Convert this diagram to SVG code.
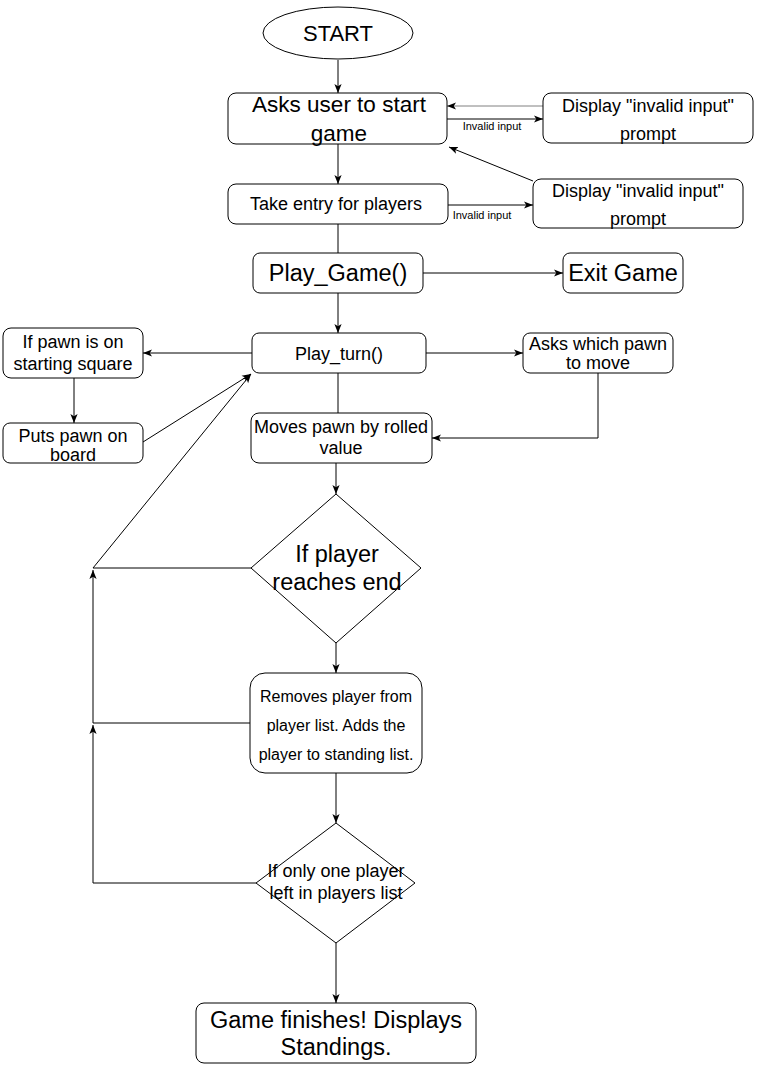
<svg xmlns="http://www.w3.org/2000/svg" width="757" height="1067" viewBox="0 0 757 1067">
<defs>
<style>
.n{fill:#fff;stroke:#000;stroke-width:1}
.t{font-family:"Liberation Sans",Arial,sans-serif;fill:#000;text-anchor:middle}
.c{fill:none;stroke:#000;stroke-width:1}
.a{marker-end:url(#arr)}
.lbl{font-family:"Liberation Sans",Arial,sans-serif;font-size:11px;fill:#000;text-anchor:middle}
</style>
<marker id="arr" viewBox="0 0 10 10" refX="10" refY="5" markerWidth="9" markerHeight="9" markerUnits="userSpaceOnUse" orient="auto">
<path d="M0,1 L10,5 L0,9 L2.5,5 z" fill="#000"/>
</marker>
</defs>
<rect width="757" height="1067" fill="#fff"/>
<g id="connectors">
<path class="c a" d="M338,60 V93"/>
<path class="c a" d="M543,106 H447" style="stroke:#808080"/>
<path class="c a" d="M447,119 H543"/>
<text class="lbl" x="492" y="130">Invalid input</text>
<path class="c a" d="M338,144 V184"/>
<path class="c a" d="M448,205 H533"/>
<text class="lbl" x="482" y="219">Invalid input</text>
<path class="c a" d="M533,181 L449,147"/>
<path class="c" d="M338,224 V253"/>
<path class="c a" d="M423,273 H563"/>
<path class="c a" d="M338,293 V333"/>
<path class="c a" d="M252,353 H143"/>
<path class="c a" d="M426,353 H523"/>
<path class="c a" d="M74,378 V423"/>
<path class="c a" d="M143,442 L251,374"/>
<path class="c a" d="M598,373 V438 H432"/>
<path class="c" d="M338,373 V413"/>
<path class="c a" d="M336,463 V494"/>
<path class="c a" d="M251,568 H93 L251,374"/>
<path class="c a" d="M336,643 V673"/>
<path class="c a" d="M250,723 H93 V570"/>
<path class="c a" d="M336,773 V823"/>
<path class="c a" d="M256,883 H93 V725"/>
<path class="c a" d="M336,943 V1003"/>
</g>
<g id="start">
<ellipse class="n" cx="338" cy="33" rx="75" ry="26"/>
<text class="t" x="338" y="41" font-size="22">START</text>
</g>
<g id="asks-start">
<rect class="n" x="228" y="93" width="219" height="51" rx="8"/>
<text class="t" x="339" y="112" font-size="22.5">Asks user to start</text>
<text class="t" x="339" y="141" font-size="22.5">game</text>
</g>
<g id="invalid1">
<rect class="n" x="543" y="93" width="210" height="50" rx="8"/>
<text class="t" x="648" y="112" font-size="18">Display "invalid input"</text>
<text class="t" x="648" y="140" font-size="18">prompt</text>
</g>
<g id="take-entry">
<rect class="n" x="228" y="184" width="220" height="40" rx="8"/>
<text class="t" x="336" y="210" font-size="18">Take entry for players</text>
</g>
<g id="invalid2">
<rect class="n" x="533" y="179" width="210" height="49" rx="8"/>
<text class="t" x="638" y="197" font-size="18">Display "invalid input"</text>
<text class="t" x="638" y="225" font-size="18">prompt</text>
</g>
<g id="play-game">
<rect class="n" x="253" y="253" width="170" height="40" rx="7"/>
<text class="t" x="338" y="281" font-size="23.5">Play_Game()</text>
</g>
<g id="exit-game">
<rect class="n" x="563" y="253" width="120" height="40" rx="7"/>
<text class="t" x="623" y="281" font-size="23.5">Exit Game</text>
</g>
<g id="play-turn">
<rect class="n" x="252" y="333" width="174" height="40" rx="7"/>
<text class="t" x="339" y="360" font-size="18">Play_turn()</text>
</g>
<g id="if-pawn">
<rect class="n" x="3" y="328" width="140" height="50" rx="8"/>
<text class="t" x="73" y="348" font-size="18">If pawn is on</text>
<text class="t" x="73" y="370" font-size="18">starting square</text>
</g>
<g id="puts-pawn">
<rect class="n" x="3" y="423" width="140" height="40" rx="7"/>
<text class="t" x="73" y="442" font-size="18">Puts pawn on</text>
<text class="t" x="73" y="461" font-size="18">board</text>
</g>
<g id="asks-which">
<rect class="n" x="523" y="333" width="150" height="40" rx="7"/>
<text class="t" x="598" y="350" font-size="18">Asks which pawn</text>
<text class="t" x="598" y="369" font-size="18">to move</text>
</g>
<g id="moves-pawn">
<rect class="n" x="251" y="413" width="181" height="50" rx="8"/>
<text class="t" x="341" y="433" font-size="18">Moves pawn by rolled</text>
<text class="t" x="341" y="454" font-size="18">value</text>
</g>
<g id="reaches-end">
<path class="n" d="M336,494 L421,568 L336,643 L251,568 Z"/>
<text class="t" x="337" y="562" font-size="23.5">If player</text>
<text class="t" x="337" y="590" font-size="23.5">reaches end</text>
</g>
<g id="removes">
<rect class="n" x="250" y="673" width="172" height="100" rx="15"/>
<text class="t" x="336" y="702" font-size="16">Removes player from</text>
<text class="t" x="336" y="731" font-size="16">player list. Adds the</text>
<text class="t" x="336" y="760" font-size="16">player to standing list.</text>
</g>
<g id="one-left">
<path class="n" d="M336,823 L415,883 L336,943 L256,883 Z"/>
<text class="t" x="336" y="877" font-size="18">If only one player</text>
<text class="t" x="336" y="899" font-size="18">left in players list</text>
</g>
<g id="game-finishes">
<rect class="n" x="196" y="1003" width="280" height="60" rx="8"/>
<text class="t" x="336" y="1028" font-size="23.5">Game finishes! Displays</text>
<text class="t" x="336" y="1055" font-size="23.5">Standings.</text>
</g>
</svg>
